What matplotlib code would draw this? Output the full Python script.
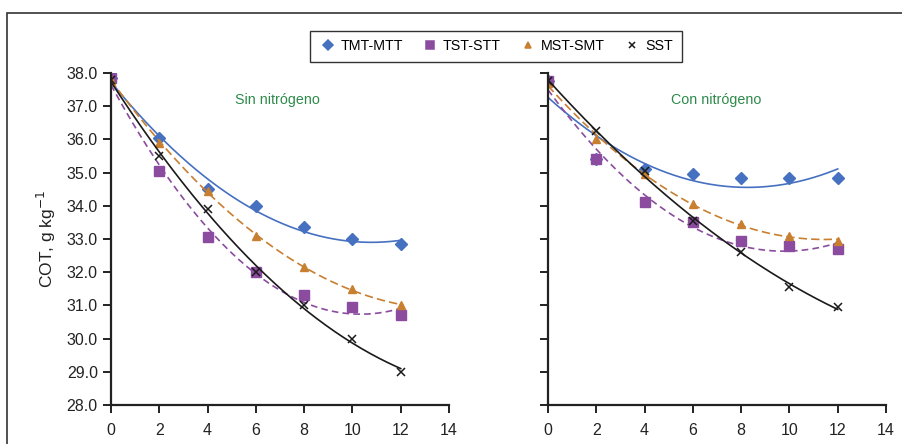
import matplotlib
matplotlib.use("Agg")
import matplotlib.pyplot as plt
import numpy as np
from matplotlib.lines import Line2D
from matplotlib.patches import Rectangle

plt.rcParams["font.family"] = ["Liberation Sans", "DejaVu Sans"]

weeks = [0, 2, 4, 6, 8, 10, 12]
series = ["TMT-MTT", "TST-STT", "MST-SMT", "SST"]

# Sin nitrógeno
sin_tmt = [37.85, 36.05, 34.5, 34.0, 33.35, 33.0, 32.85]
sin_tst = [37.85, 35.05, 33.05, 32.0, 31.3, 30.95, 30.7]
sin_mst = [37.8, 35.9, 34.45, 33.1, 32.15, 31.5, 31.0]
sin_sst = [37.8, 35.5, 33.9, 32.0, 31.0, 30.0, 29.0]

# Con nitrógeno
con_tmt = [37.75, 35.4, 35.1, 34.95, 34.85, 34.85, 34.85]
con_tst = [37.75, 35.4, 34.1, 33.5, 32.95, 32.8, 32.7]
con_mst = [37.7, 36.0, 34.95, 34.05, 33.45, 33.1, 32.95]
con_sst = [37.75, 36.25, 35.05, 33.55, 32.6, 31.55, 30.95]

styles = {
    "TMT-MTT": dict(mk="D", mcolor="#4670c0", lcolor="#4670c0", ls="-", ms=6.5),
    "TST-STT": dict(mk="s", mcolor="#8b4ca0", lcolor="#8b4ca0", ls=(0, (4, 2.5)), ms=6.5),
    "MST-SMT": dict(mk="^", mcolor="#c87f30", lcolor="#c87f30", ls=(0, (5, 2.5)), ms=6),
    "SST": dict(mk="x", mcolor="#1a1a1a", lcolor="#1a1a1a", ls="-", ms=6),
}

fig = plt.figure(figsize=(9.03, 4.44), dpi=100)
fig.patches.append(Rectangle((7 / 903, -0.1), 1.2, 1 - 13 / 444 + 0.1, transform=fig.transFigure,
                             fill=False, edgecolor="#333333", lw=1.2))

ax1 = fig.add_axes([111 / 903, 39 / 444, 338 / 903, 332 / 444])
ax2 = fig.add_axes([548 / 903, 39 / 444, 338 / 903, 332 / 444])

xfit = np.linspace(0, 12, 200)
panels = [
    (ax1, [sin_tmt, sin_tst, sin_mst, sin_sst], "Sin nitrógeno", 6.9),
    (ax2, [con_tmt, con_tst, con_mst, con_sst], "Con nitrógeno", 6.95),
]
for ax, data, title, tx in panels:
    for name, vals in zip(series, data):
        st = styles[name]
        coef = np.polyfit(weeks, vals, 2)
        ax.plot(xfit, np.polyval(coef, xfit), color=st["lcolor"], ls=st["ls"], lw=1.2)
        if st["mk"] == "x":
            ax.plot(weeks, vals, ls="none", marker="x", ms=st["ms"], mew=1.1, color=st["mcolor"])
        else:
            ax.plot(weeks, vals, ls="none", marker=st["mk"], ms=st["ms"], color=st["mcolor"], mec=st["mcolor"])
    ax.set_xlim(0, 14)
    ax.set_ylim(28, 38)
    ax.set_xticks(range(0, 15, 2))
    ax.set_yticks(np.arange(28, 38.1, 1))
    for s in ["top", "right"]:
        ax.spines[s].set_visible(False)
    for s in ["left", "bottom"]:
        ax.spines[s].set_linewidth(1.6)
        ax.spines[s].set_color("#222222")
    ax.tick_params(axis="both", direction="out", length=6, width=1.4, color="#222222",
                   labelsize=11.5, labelcolor="#222222")
    ax.tick_params(axis="x", pad=7)
    ax.text(tx, 37.2, title, color="#2e8a4a", fontsize=10.3, ha="center", va="center")

ax1.set_yticklabels([f"{v:.1f}" for v in np.arange(28, 38.1, 1)])
ax2.set_yticklabels([])
ax1.set_ylabel("COT, g kg$^{-1}$", fontsize=12.5, color="#222222", labelpad=6)

handles = [
    Line2D([], [], ls="none", marker=styles[n]["mk"], color=styles[n]["mcolor"],
           ms=styles[n]["ms"] - 1, mew=1.1)
    for n in series
]
fig.legend(handles, series, loc="center", bbox_to_anchor=(496 / 903, 1 - 46.5 / 444), ncol=4,
           fontsize=10.3, frameon=True, fancybox=False, edgecolor="#333333", framealpha=1,
           handletextpad=0.3, columnspacing=1.3, handlelength=1.2, borderpad=0.6)

fig.savefig("out.png", dpi=100)
